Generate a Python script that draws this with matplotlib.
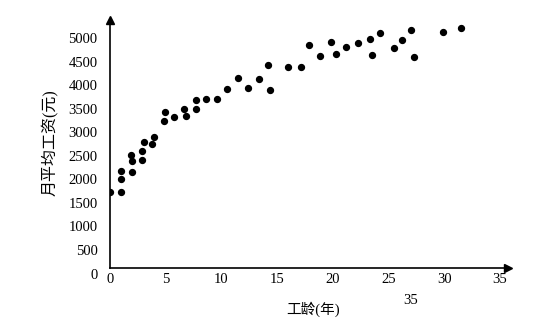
import matplotlib
matplotlib.use("Agg")
import matplotlib.pyplot as plt

plt.rcParams['font.family'] = ['Liberation Serif', 'Noto Sans CJK SC']

# work years vs monthly average salary
years = [0, 1, 1, 1, 1.9, 2, 2, 2.9, 2.9, 3.05, 3.8, 3.95, 4.85, 4.95,
         5.75, 6.65, 6.8, 7.7, 7.7, 8.6, 9.6, 10.5, 11.5, 12.4, 13.4, 14.2,
         14.4, 16, 17.1, 17.9, 18.85, 19.8, 20.3, 21.2, 22.3, 23.3, 23.5,
         24.2, 25.5, 26.2, 27, 27.3, 29.9, 31.5]
salary = [1740, 1740, 2000, 2180, 2520, 2380, 2160, 2610, 2420, 2800, 2740,
          2890, 3230, 3430, 3320, 3500, 3340, 3680, 3500, 3700, 3700, 3910,
          4150, 3930, 4130, 4430, 3890, 4390, 4390, 4850, 4610, 4910, 4650,
          4800, 4890, 4980, 4630, 5110, 4780, 4960, 5170, 4590, 5130, 5220]

xticks = [0, 5, 10, 15, 20, 25, 30, 35]
yticks = [0, 500, 1000, 1500, 2000, 2500, 3000, 3500, 4000, 4500, 5000]

fig = plt.figure(figsize=(5.52, 3.24), dpi=100)
ax = fig.add_axes([0.1993, 0.134, 0.7205, 0.8043])

ax.scatter(years, salary, s=18, color='black', zorder=3)

ax.set_xlim(0, 35.7)
ax.set_ylim(-150, 5382)

for s in ['top', 'right']:
    ax.spines[s].set_visible(False)
ax.spines['bottom'].set_position(('data', 110))
ax.spines['left'].set_bounds(110, 5382)
ax.spines['bottom'].set_linewidth(1.2)
ax.spines['left'].set_linewidth(1.2)

# arrow heads
ax.plot(1, 110, '>k', markersize=6, transform=ax.get_yaxis_transform(), clip_on=False)
ax.plot(0, 1, '^k', markersize=6, transform=ax.get_xaxis_transform(), clip_on=False)

ax.set_xticks(xticks)
ax.set_yticks(yticks)
ax.tick_params(axis='both', length=0, labelsize=10.5)
ax.tick_params(axis='y', pad=9)
ax.tick_params(axis='x', pad=3)

fig.text(0.09, 1 - 143 / 324, '月平均工资(元)', rotation=90, ha='center', va='center', fontsize=11.5)
fig.text(313 / 552, 1 - 309 / 324, '工龄(年)', ha='center', va='center', fontsize=10.5)
fig.text(411 / 552, 1 - 301 / 324, '35', ha='center', va='center', fontsize=10.5)

fig.savefig('out.png', dpi=100)
